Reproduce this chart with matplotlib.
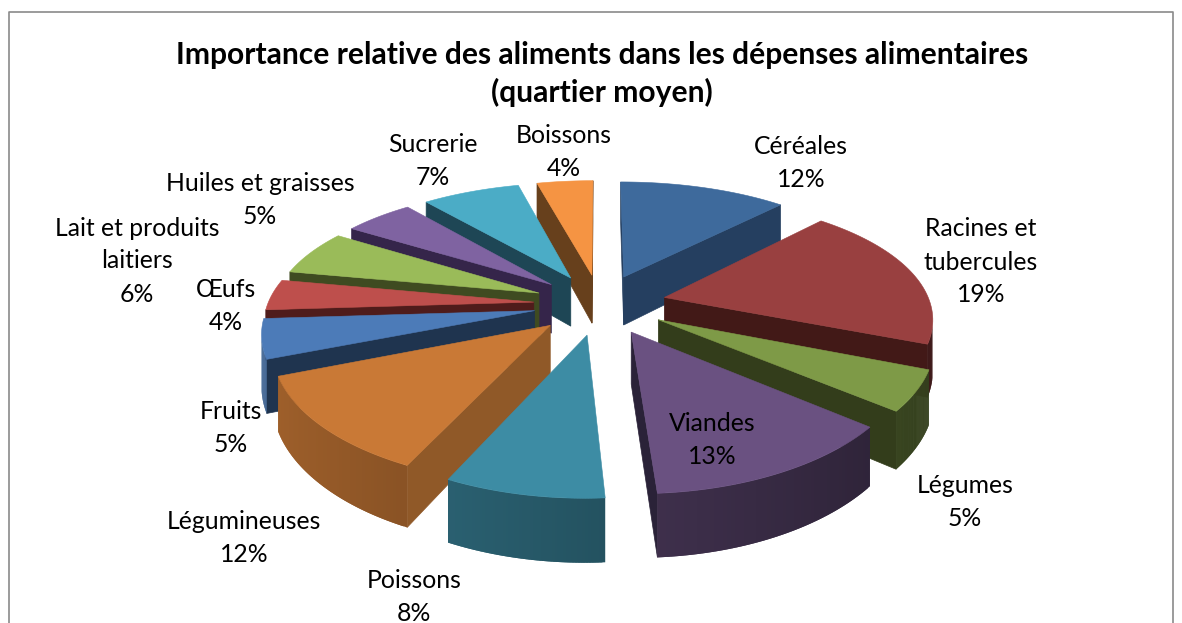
import matplotlib
matplotlib.use('Agg')
import matplotlib.pyplot as plt
from matplotlib.patches import Polygon
import numpy as np

plt.rcParams['font.family'] = ['Lato', 'DejaVu Sans']

# Data, clockwise from twelve o'clock
categories = ['Céréales', 'Racines et\ntubercules', 'Légumes', 'Viandes', 'Poissons', 'Légumineuses',
              'Fruits', 'Œufs', 'Lait et produits\nlaitiers', 'Huiles et graisses', 'Sucrerie', 'Boissons']
values = [12, 19, 5, 13, 8, 12, 5, 4, 6, 5, 7, 4]

colors = ['#3E6A9C', '#994040', '#7E9A47', '#6A5181', '#3D8CA4', '#C97936',
          '#4C7BB8', '#BE4F4C', '#9ABB59', '#7F63A1', '#4BACC6', '#F59443']
cut_colors = ['#253F60', '#421917', '#333D1B', '#2A2238', '#1F5060', '#905928',
              '#1F344F', '#4F1C1B', '#3F4B21', '#35254A', '#1E4655', '#67401C']
label_pos = [(801, 163), (981, 262), (965, 502), (712, 440), (414, 597), (244, 538),
             (231, 428), (226, 306), (137, 261), (260, 200), (433, 161), (564, 152)]
LINE_PITCH = 33

# Projection of the tilted pie
CX, CY = 600, 304
A, B, D = 266, 121, 50
KX, KY = 0.15, 0.18
EXPLODE = 0.25


def project(x, y, z):
    wx = 1 + KX * y
    wy = 1 + KY * y
    return CX + A * x / wx, CY - B * y / wy + D * z / wy


def darker(col, f):
    rgb = np.array(matplotlib.colors.to_rgb(col))
    return tuple(rgb * f)


def faces_camera(nx, ny, x, y):
    # camera sits in front of the pie, at y = -1/KY
    return nx * (-x) + ny * (-1 / KY - y) > 0


fig = plt.figure(figsize=(11.82, 6.23), dpi=100)
ax = fig.add_axes([0, 0, 1, 1])
ax.set_xlim(0, 1182)
ax.set_ylim(623, 0)
ax.axis('off')

# Chart frame, open at the bottom
ax.plot([9, 9, 1173, 1173], [623, 12, 12, 623], color='#8a8a8a', lw=1.2)

# Angles from the values
edges = np.cumsum([0] + values) / sum(values) * 2 * np.pi
wedges = []
for i in range(len(values)):
    a0, a1 = edges[i], edges[i + 1]
    wedges.append((i, a0, a1, (a0 + a1) / 2))
# far slices first
wedges.sort(key=lambda t: -np.cos(t[3]))

for rank, (i, a0, a1, mid) in enumerate(wedges):
    z = 2 + rank * 0.01
    ex, ey = EXPLODE * np.sin(mid), EXPLODE * np.cos(mid)
    t = np.linspace(a0, a1, 60)
    rx = ex + np.sin(t)
    ry = ey + np.cos(t)
    top = [project(x, y, 0) for x, y in zip(rx, ry)]
    bot = [project(x, y, 1) for x, y in zip(rx, ry)]
    apex_t = project(ex, ey, 0)
    apex_b = project(ex, ey, 1)

    # cut faces, only those turned to the viewer
    if faces_camera(-np.cos(a0), np.sin(a0), ex, ey):
        ax.add_patch(Polygon([apex_t, apex_b, bot[0], top[0]], fc=cut_colors[i], ec=cut_colors[i], lw=0.5, zorder=z))
    if faces_camera(np.cos(a1), -np.sin(a1), ex, ey):
        ax.add_patch(Polygon([apex_t, apex_b, bot[-1], top[-1]], fc=cut_colors[i], ec=cut_colors[i], lw=0.5, zorder=z))
    # rim with a shading across it, quads overlap so no seams show
    for j in range(len(t) - 1):
        if not faces_camera(np.sin(t[j]), np.cos(t[j]), rx[j], ry[j]):
            continue
        k = min(j + 2, len(t) - 1)
        f = 0.60 - 0.2 * np.sin(t[j])
        ax.add_patch(Polygon([top[j], top[k], bot[k], bot[j]], fc=darker(colors[i], f), ec='none', zorder=z))
    ax.add_patch(Polygon([apex_t] + top, fc=colors[i], ec=colors[i], lw=0.4, zorder=z))

# one text per line so the lines keep the wide spacing of the original
for name, v, (x, y) in zip(categories, values, label_pos):
    lines = name.split('\n') + [f'{v}%']
    y0 = y - LINE_PITCH * (len(lines) - 1) / 2
    for n, line in enumerate(lines):
        ax.text(x, y0 + n * LINE_PITCH, line, ha='center', va='center', fontsize=17.8, color='black', zorder=5)

ax.text(602, 74, 'Importance relative des aliments dans les dépenses alimentaires\n(quartier moyen)',
        ha='center', va='center', fontsize=21.6, fontweight='bold', linespacing=1.37, zorder=5)

fig.savefig('out.png', dpi=100)
